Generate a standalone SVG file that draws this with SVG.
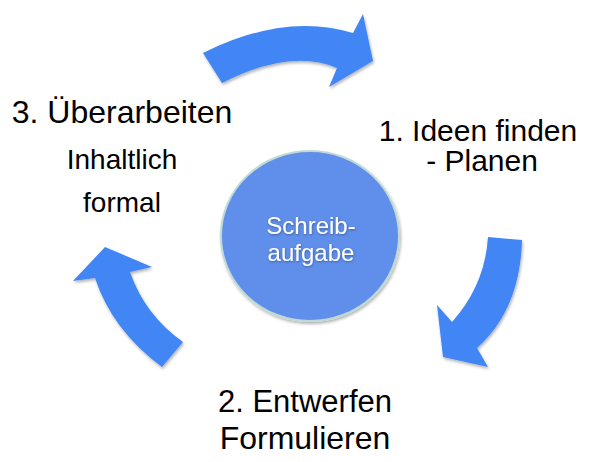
<svg xmlns="http://www.w3.org/2000/svg" width="592" height="462" viewBox="0 0 592 462">
  <defs>
    <filter id="shadow" x="-20%" y="-20%" width="140%" height="140%">
      <feDropShadow dx="1" dy="2" stdDeviation="1.5" flood-color="#000" flood-opacity="0.3"/>
    </filter>
    <filter id="tshadow" x="-10%" y="-10%" width="120%" height="130%">
      <feDropShadow dx="0.5" dy="1" stdDeviation="0.8" flood-color="#000" flood-opacity="0.35"/>
    </filter>
  </defs>
  <style>
    .arrow { fill: #4285F4; filter: url(#shadow); }
    .label { font-family: "Liberation Sans", Arial, sans-serif; fill: #000; text-anchor: middle; }
    .big { font-size: 31px; }
    .small { font-size: 28px; }
    .center { font-family: "Liberation Sans", Arial, sans-serif; font-size: 24px; fill: #fff; text-anchor: middle; filter: url(#tshadow); }
  </style>
  <rect width="592" height="462" fill="#fff"/>

  <g id="connectors">
    <path class="arrow" d="M203,53 Q285,12 353,33 L363,14 L373,61 L329,87 L337,68 Q290,48 222,83 Z"/>
    <path class="arrow" d="M488,237 L522,240 Q520,310 477,348 L488,367 L443,357 L437,305 L452,322 Q485,285 488,237 Z"/>
    <path class="arrow" d="M105,247 L152,267 L130,272 Q145,315 183,342 L162,367 Q112,330 95,278 L73,281 Z"/>
  </g>

  <g id="center">
    <ellipse cx="310" cy="236" rx="89" ry="85" fill="#5F8FEA" stroke="#BFD9D6" stroke-width="2" filter="url(#shadow)"/>
    <text class="center" x="311" y="234">Schreib-</text>
    <text class="center" x="311" y="261">aufgabe</text>
  </g>

  <g id="step1">
    <text class="label" style="font-size:30px" x="478" y="141">1. Ideen finden</text>
    <text class="label" style="font-size:30px" x="482" y="171">- Planen</text>
  </g>

  <g id="step2">
    <text class="label big" x="305" y="412">2. Entwerfen</text>
    <text class="label" style="font-size:32px" x="305" y="449">Formulieren</text>
  </g>

  <g id="step3">
    <text class="label" style="font-size:32px" x="122" y="123">3. Überarbeiten</text>
    <text class="label small" x="122" y="169">Inhaltlich</text>
    <text class="label small" x="122" y="212">formal</text>
  </g>
</svg>
